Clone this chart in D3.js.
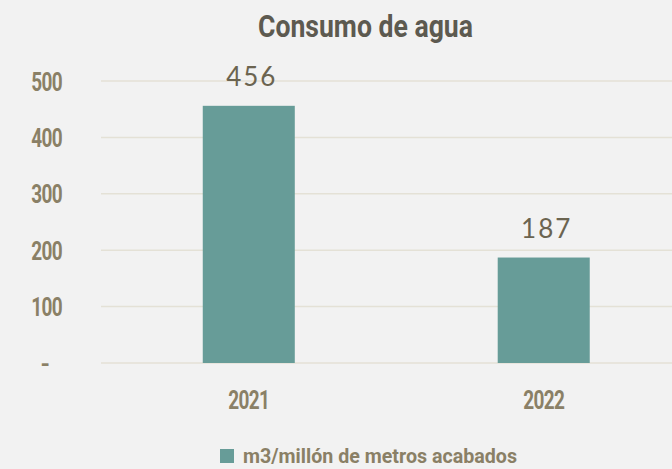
<!DOCTYPE html>
<html><head><meta charset="utf-8">
<script src="https://cdn.jsdelivr.net/npm/d3@7"></script>
<style>
html,body{margin:0;padding:0;background:#f2f2f2;}
svg{display:block;}
.cond{font-family:"Roboto","DejaVu Sans Condensed",sans-serif;font-weight:700;}
</style></head><body>
<svg id="chart" width="672" height="469"></svg>
<script>
const title = "Consumo de agua";
const categories = ["2021", "2022"];
const values = [456, 187];
const seriesName = "m3/millón de metros acabados";
const yTicks = [0, 100, 200, 300, 400, 500];
const yTickLabels = ["-", "100", "200", "300", "400", "500"];

const W = 672, H = 469;
const svg = d3.select("#chart");
svg.append("rect").attr("width", W).attr("height", H).attr("fill", "#f2f2f2");

const y = d3.scaleLinear().domain([0, 500]).range([363, 81]);
const x = d3.scaleBand().domain(categories).range([101, 691.5]).paddingInner(0.688).paddingOuter(0.345);

const axisColor = "#8a8066";

// gridlines
svg.append("g").selectAll("line").data(yTicks).join("line")
  .attr("x1", 101).attr("x2", W)
  .attr("y1", d => y(d)).attr("y2", d => y(d))
  .attr("stroke", "#e4e1d6").attr("stroke-width", 1.5);

// y axis
const yAxis = d3.axisLeft(y).tickValues(yTicks).tickSize(0).tickPadding(0)
  .tickFormat((d, i) => yTickLabels[i]);
const gy = svg.append("g").attr("transform", "translate(62,0)").call(yAxis);
gy.select(".domain").remove();
gy.selectAll("text").attr("class", "cond").attr("fill", axisColor)
  .attr("font-size", 25).attr("letter-spacing", -0.8).attr("dy", 0).attr("y", 9)
  .attr("transform", "scale(0.76,1)");
gy.selectAll(".tick").filter(d => d === 0).select("text").attr("x", -12).attr("y", 8)
  .attr("transform", "scale(1,1)").attr("font-size", 24).attr("letter-spacing", 0);

// x axis
const xAxis = d3.axisBottom(x).tickSize(0).tickPadding(0);
const gx = svg.append("g").attr("transform", "translate(0,409)").call(xAxis);
gx.select(".domain").remove();
gx.selectAll("text").attr("class", "cond").attr("fill", axisColor)
  .attr("font-size", 25).attr("letter-spacing", -0.8).attr("dy", 0).attr("y", 0)
  .attr("transform", "scale(0.76,1)");

// bars
svg.append("g").selectAll("rect").data(values).join("rect")
  .attr("x", (d, i) => x(categories[i]))
  .attr("width", x.bandwidth())
  .attr("y", d => y(d))
  .attr("height", d => y(0) - y(d))
  .attr("fill", "#679c98");

// data labels
svg.append("g").selectAll("text").data(values).join("text")
  .attr("x", (d, i) => x(categories[i]) + x.bandwidth() / 2 + 3)
  .attr("y", d => y(d) - 20)
  .attr("text-anchor", "middle")
  .attr("font-family", "'Lato','Noto Sans',sans-serif")
  .attr("font-size", 26).attr("letter-spacing", 2)
  .attr("fill", "#6b6450")
  .text(d => d);

// title
svg.append("text").attr("class", "cond")
  .attr("x", 258).attr("y", 37)
  .attr("font-size", 31).attr("textLength", 215).attr("lengthAdjust", "spacingAndGlyphs")
  .attr("fill", "#5d5a50").text(title);

// legend
const lg = svg.append("g");
lg.append("rect").attr("x", 220).attr("y", 449).attr("width", 14).attr("height", 14).attr("fill", "#679c98");
lg.append("text").attr("class", "cond").attr("x", 243).attr("y", 463)
  .attr("font-size", 21).attr("textLength", 274).attr("lengthAdjust", "spacingAndGlyphs")
  .attr("fill", axisColor).text(seriesName);
</script>
</body></html>
